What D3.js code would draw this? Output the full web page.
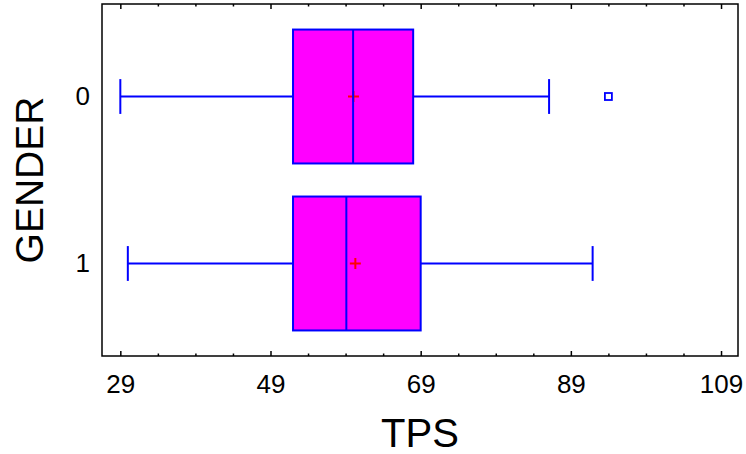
<!DOCTYPE html>
<html>
<head>
<meta charset="utf-8">
<script src="https://cdn.jsdelivr.net/npm/d3@7"></script>
<style>
  html, body { margin: 0; padding: 0; background: #fff; }
  svg text { font-family: "Liberation Sans", Arial, sans-serif; fill: #000; }
</style>
</head>
<body>
<svg id="chart" width="746" height="454"></svg>
<script>
// Box-and-whisker summary of TPS by GENDER
const categories = ["0", "1"];
const whiskerLow  = [29, 30];
const q1          = [52, 52];
const medians     = [60, 59.1];
const q3          = [68, 69];
const whiskerHigh = [86.1, 91.9];
const means       = [60.05, 60.3];
const outliers    = [[94], []];
const majorTicks  = [29, 49, 69, 89, 109];
const minorTicks  = d3.range(29, 111, 5);

const svg = d3.select("#chart");
const frame = { left: 102, right: 738, top: 4, bottom: 356 };

const x = d3.scaleLinear().domain([26.56, 111.26]).range([frame.left, frame.right]);
const y = d3.scaleBand().domain(categories).range([frame.top, frame.bottom])
  .paddingInner(0.198).paddingOuter(0.153);

const boxes = categories.map((c, i) => ({
  cat: c, lo: whiskerLow[i], q1: q1[i], med: medians[i], q3: q3[i],
  hi: whiskerHigh[i], mean: means[i], out: outliers[i]
}));

const blue = "#0000ff";
const g = svg.append("g");

boxes.forEach(b => {
  const cy = y(b.cat) + y.bandwidth() / 2;
  const top = y(b.cat), h = y.bandwidth();
  const cap = h * 0.13;
  const bg = g.append("g");
  // whiskers
  bg.append("line").attr("x1", x(b.lo)).attr("x2", x(b.q1)).attr("y1", cy).attr("y2", cy)
    .attr("stroke", blue).attr("stroke-width", 2);
  bg.append("line").attr("x1", x(b.q3)).attr("x2", x(b.hi)).attr("y1", cy).attr("y2", cy)
    .attr("stroke", blue).attr("stroke-width", 2);
  [b.lo, b.hi].forEach(v => {
    bg.append("line").attr("x1", x(v)).attr("x2", x(v)).attr("y1", cy - cap).attr("y2", cy + cap)
      .attr("stroke", blue).attr("stroke-width", 2);
  });
  // box
  bg.append("rect").attr("x", x(b.q1)).attr("y", top)
    .attr("width", x(b.q3) - x(b.q1)).attr("height", h)
    .attr("fill", "#ff00ff").attr("stroke", blue).attr("stroke-width", 2);
  // mean marker
  const m = 5.5;
  bg.append("line").attr("x1", x(b.mean) - m).attr("x2", x(b.mean) + m).attr("y1", cy).attr("y2", cy)
    .attr("stroke", "#ff0000").attr("stroke-width", 2);
  bg.append("line").attr("x1", x(b.mean)).attr("x2", x(b.mean)).attr("y1", cy - m).attr("y2", cy + m)
    .attr("stroke", "#ff0000").attr("stroke-width", 2);
  // median
  bg.append("line").attr("x1", x(b.med)).attr("x2", x(b.med)).attr("y1", top).attr("y2", top + h)
    .attr("stroke", blue).attr("stroke-width", 2);
  // outliers
  b.out.forEach(v => {
    bg.append("rect").attr("x", x(v) - 3.5).attr("y", cy - 3.5).attr("width", 7).attr("height", 7)
      .attr("fill", "#fff").attr("stroke", blue).attr("stroke-width", 1.8);
  });
});

// frame
svg.append("rect").attr("x", frame.left).attr("y", frame.top)
  .attr("width", frame.right - frame.left).attr("height", frame.bottom - frame.top)
  .attr("fill", "none").attr("stroke", "#000").attr("stroke-width", 1.5);

// bottom axis: inward ticks plus labels
const bottom = d3.axisBottom(x).tickValues(majorTicks).tickSize(-5).tickPadding(18.5).tickFormat(d3.format("d"));
const bAxis = svg.append("g").attr("transform", `translate(0,${frame.bottom})`).call(bottom);
bAxis.select(".domain").remove();
bAxis.selectAll("text").attr("font-size", 26).attr("dy", "0.71em");
bAxis.selectAll(".tick line").attr("stroke-width", 1.5);
const bMinor = svg.append("g").attr("transform", `translate(0,${frame.bottom})`)
  .call(d3.axisBottom(x).tickValues(minorTicks.filter(v => !majorTicks.includes(v))).tickSize(-2.5).tickFormat(""));
bMinor.select(".domain").remove();
bMinor.selectAll(".tick line").attr("stroke-width", 1.5);

// top axis: inward ticks only
const tMajor = svg.append("g").attr("transform", `translate(0,${frame.top})`)
  .call(d3.axisTop(x).tickValues(majorTicks).tickSize(-5).tickFormat(""));
tMajor.select(".domain").remove();
tMajor.selectAll(".tick line").attr("stroke-width", 1.5);
const tMinor = svg.append("g").attr("transform", `translate(0,${frame.top})`)
  .call(d3.axisTop(x).tickValues(minorTicks.filter(v => !majorTicks.includes(v))).tickSize(-2.5).tickFormat(""));
tMinor.select(".domain").remove();
tMinor.selectAll(".tick line").attr("stroke-width", 1.5);

// left axis: category labels
const left = d3.axisLeft(y).tickSize(0).tickPadding(12);
const lAxis = svg.append("g").attr("transform", `translate(${frame.left},0)`).call(left);
lAxis.select(".domain").remove();
lAxis.selectAll("text").attr("font-size", 26);

// axis titles
svg.append("text").attr("x", (frame.left + frame.right) / 2).attr("y", 447)
  .attr("text-anchor", "middle").attr("font-size", 40).text("TPS");
svg.append("text").attr("transform", `translate(43,${(frame.top + frame.bottom) / 2}) rotate(-90)`)
  .attr("text-anchor", "middle").attr("font-size", 39).text("GENDER");
</script>
</body>
</html>
